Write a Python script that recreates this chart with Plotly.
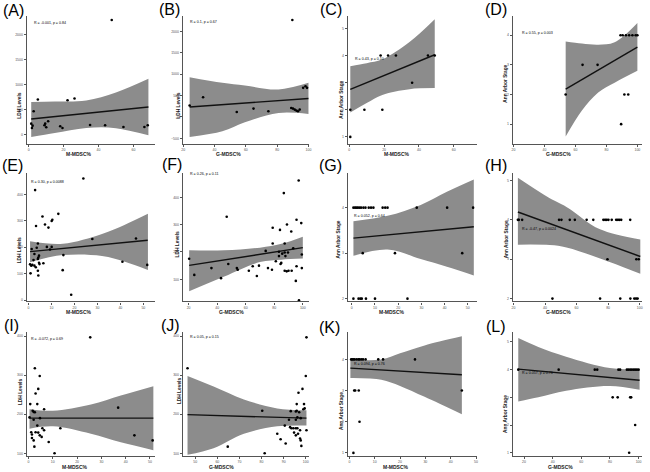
import plotly.graph_objects as go

W, H = 650, 472

# ---------------- data ----------------
a_x = [1.5, 2.3, 2.9, 1.9, 5.3, 9.1, 10.1, 11.2, 9.5, 18.1, 19.4, 22.3, 26.3, 35.2, 43.8, 47.6, 54.3, 66.3, 68.2]
a_y = [220, 180, 467, 133, 700, 187, 147, 267, 220, 167, 133, 687, 720, 193, 187, 2287, 153, 153, 187]
a_fit_x = [1.5, 68.6]
a_fit_y = [313, 553]
a_band_x = [1.5, 15, 33, 50, 68.6]
a_band_up = [653, 660, 680, 840, 1113]
a_band_lo = [-47, 33, 133, 130, -13]

b_x = [24.1, 32.7, 54.2, 64.9, 74.4, 89.7, 89.0, 90.1, 91.2, 92.3, 93.3, 94.4, 96.6, 98.1, 99.1]
b_y = [266, 461, 117, 195, 133, 2266, 211, 195, 172, 148, 133, 172, 680, 719, 680]
b_fit_x = [24.1, 100]
b_fit_y = [234, 430]
b_band_x = [24.1, 45, 59.4, 80.9, 100]
b_band_up = [930, 797, 734, 641, 797]
b_band_lo = [-469, -336, -125, 94, 70]

c_x = [0.6, 0.6, 8.7, 19, 18, 22.3, 26.8, 36.1, 45.2, 49.1]
c_y = [1, 2, 2, 2, 4, 4, 4, 3, 4, 4]
c_fit_x = [0.6, 49.1]
c_fit_y = [2.75, 4.03]
c_band_x = [0.6, 10, 19, 34.6, 49.1]
c_band_up = [3.61, 3.72, 3.86, 4.5, 5.34]
c_band_lo = [1.9, 2.25, 2.55, 2.76, 2.8]

d_x = [53.7, 64.6, 74.3, 89.5, 91.6, 94.1, 89.1, 90.5, 92.6, 94.7, 96.8, 98.9, 100]
d_y = [2, 3, 3, 1, 2, 2, 4, 4, 4, 4, 4, 4, 4]
d_fit_x = [53.7, 100]
d_fit_y = [2.18, 3.6]
d_band_x = [53.7, 64.2, 74.7, 85.3, 100]
d_band_up = [3.79, 3.72, 3.68, 3.76, 4.41]
d_band_lo = [0.58, 1.46, 2.07, 2.4, 2.8]

e_x = [23.9, 2.9, 13, 6.1, 10.4, 10.1, 3.3, 7.2, 8.7, 4.1, 3.6, 8, 10.1, 9.4, 1.4, 2.6, 4.6, 4.3, 4.1,
       2.2, 0.7, 1.2, 1.7, 2.6, 4.6, 4.8, 6.5, 3.2, 4.1, 0.9, 4.3, 15.2, 14.9, 27.8, 40.9, 46.8, 51.7, 18.6]
e_y = [460, 416, 326, 316, 304, 299, 280, 286, 274, 214, 198, 201, 201, 191, 193, 174, 168, 161, 155,
       151, 135, 130, 133, 130, 141, 136, 139, 124, 111, 101, 93, 170, 113, 231, 145, 233, 133, 20]
e_fit_x = [0.7, 51.9]
e_fit_y = [183, 226]
e_band_x = [0.7, 15, 32, 42, 52]
e_band_up = [222, 213, 250, 285, 326]
e_band_lo = [143, 170, 167, 145, 114]

f_x = [97.1, 86.7, 46.7, 78.9, 84, 88.9, 95.6, 98.9, 91.9, 78.9, 87.3, 74, 83.3, 85.6, 87.3, 89.6, 87.8,
       93.3, 99.3, 81.1, 84.4, 87.3, 88.7, 90, 92.2, 84.9, 75.6, 78.4, 95.6, 99.3, 95.1, 97.3, 69.3, 64.9,
       62.2, 67.8, 53.8, 54.4, 47.8, 36, 42.7, 24, 20.4, 83.3]
f_y = [462, 416, 329, 289, 281, 301, 318, 306, 275, 231, 231, 204, 201, 194, 198, 198, 185, 214, 191,
       166, 156, 131, 129, 131, 131, 160, 141, 135, 148, 141, 94, 23, 150, 148, 131, 112, 141, 135, 156,
       141, 104, 116, 175, 185]
f_fit_x = [20.4, 100]
f_fit_y = [151, 216]
f_band_x = [20.4, 45, 70, 85, 100]
f_band_up = [206, 206, 216, 230, 256]
f_band_lo = [56, 110, 163, 172, 176]

g_x = [0.7, 1.4, 2, 2.6, 3.3, 4, 5, 5.9, 7.3, 8.3, 9.3, 13.3, 14.4, 15.4, 28, 41.1, 52.3,
       4.7, 18.6, 47.6,
       0.7, 2.9, 3.7, 4.3, 6.1, 10, 24]
g_y = [4] * 17 + [3] * 3 + [2] * 7
g_fit_x = [0.7, 52.6]
g_fit_y = [3.33, 3.58]
g_band_x = [0.7, 15.4, 29.7, 41, 52.6]
g_band_up = [3.70, 3.82, 4.06, 4.35, 4.62]
g_band_lo = [2.94, 3.08, 2.87, 2.70, 2.51]

h_x = [22.8, 23.4, 25.5, 48.9, 50.4, 55.7, 58.9, 66.4, 70.6, 77, 78.1, 79.1, 80.2, 82.3, 85.1, 86.2,
       87.2, 88.3, 94,
       79.6, 97.9, 99.4,
       44.7, 74.9, 87.7, 94.1, 96.6, 97.7, 98.7]
h_y = [4] * 19 + [3] * 3 + [2] * 7
h_fit_x = [22.8, 100.4]
h_fit_y = [4.2, 3.07]
h_band_x = [22.8, 43, 53.6, 74.9, 100.4]
h_band_up = [5.07, 4.55, 4.33, 3.76, 3.5]
h_band_lo = [3.37, 3.36, 3.3, 3.02, 2.63]

i_x = [25.4, 2.6, 4.6, 4, 2.9, 0.7, 3.6, 1.7, 2.1, 2.6, 6.4, 0.4, 2.1, 4.7, 3.6, 5.7, 2.9, 4, 1.4,
       4.6, 6.4, 5.4, 2.1, 8.3, 2.4, 10.7, 13.1, 36.9, 43.6, 51.1, 1.1, 1.4]
i_y = [397, 318, 298, 265, 253, 226, 226, 209, 206, 205, 213, 192, 186, 190, 171, 164, 154, 153, 148,
       146, 159, 142, 133, 129, 117, 100, 164, 217, 146, 133, 154, 139]
i_fit_x = [0.4, 51.4]
i_fit_y = [190, 190]
i_band_x = [0.4, 10, 25.7, 38, 51.4]
i_band_up = [213, 209, 225, 248, 272]
i_band_lo = [163, 169, 150, 128, 108]

j_x = [100.3, 46.5, 100, 98.5, 96.7, 95.9, 99.2, 99.5, 98.9, 95.9, 93.2, 95.5, 97, 80.3, 92.4, 95.5,
       96.2, 97.7, 90.5, 92.9, 93.5, 94.4, 95.5, 96.2, 97.4, 100.3, 87.1, 94.7, 95.5, 96.5, 97.4, 97.7,
       88.6, 98, 90.9, 64.7, 81.4]
j_y = [397, 318, 298, 265, 255, 226, 226, 215, 213, 209, 208, 207, 205, 209, 186, 186, 192, 190, 171,
       167, 164, 164, 164, 164, 159, 159, 150, 153, 146, 150, 138, 133, 136, 119, 125, 117, 100]
j_fit_x = [46.5, 100.3]
j_fit_y = [199, 190]
j_band_x = [46.5, 58.3, 72, 87.1, 100.3]
j_band_up = [298, 271, 238, 215, 210]
j_band_lo = [96, 113, 150, 169, 171]

k_x = [0.7, 1.1, 1.6, 2.1, 2.9, 3.6, 4, 4.7, 5.4, 6.4, 11.4, 13.3, 25.9,
       1.9, 2.3, 3.7, 44.4,
       4.0,
       1.6]
k_y = [4] * 13 + [3] * 4 + [2] + [1]
k_fit_x = [0.4, 44.4]
k_fit_y = [3.72, 3.51]
k_band_x = [0.4, 12.6, 20, 29.7, 44.4]
k_band_up = [4.0, 4.0, 4.2, 4.45, 4.74]
k_band_lo = [3.4, 3.35, 3.15, 2.8, 2.24]

l_x = [16, 44.2, 69.4, 71.1, 85.9, 87.1, 91.8, 92.9, 94.1, 95.3, 96.5, 97.6, 98.8, 100,
       81.9, 85.4, 94.1, 94.8,
       97.6,
       93.4]
l_y = [4] * 14 + [3] * 4 + [2] + [1]
l_fit_x = [16, 100.7]
l_fit_y = [4.02, 3.62]
l_band_x = [16, 30, 49.4, 80, 100.7]
l_band_up = [5.14, 4.82, 4.47, 4.06, 4.02]
l_band_lo = [2.85, 3.0, 3.24, 3.41, 3.27]

stats = ["R = -0.001, p = 0.84", "R = 0.1, p = 0.67", "R = 0.43, p = 0.10", "R = 0.55, p = 0.003",
         "R = 0.30, p = 0.0088", "R = 0.26, p = 0.11", "R = 0.052, p = 0.64", "R = -0.47, p = 0.0024",
         "R = -0.072, p = 0.69", "R = 0.05, p = 0.15", "R = 0.094, p = 0.76", "R = 0.057, p = 0.76"]
letters = ["(A)", "(B)", "(C)", "(D)", "(E)", "(F)", "(G)", "(H)", "(I)", "(J)", "(K)", "(L)"]
ldh = "LDH Levels"
stage = "Ann Arbor Stage"
mm = "M-MDSC%"
gm = "G-MDSC%"

ldh_ticks_a = [0, 500, 1000, 1500, 2000]
ldh_ticks_b = [-500, 0, 500, 1000, 1500, 2000]
ldh_ticks = [0, 100, 200, 300, 400]
stage_ticks = [1, 2, 3, 4, 5]
m_ticks_a = [0, 20, 40, 60]
m_ticks = [0, 10, 20, 30, 40, 50]
g_ticks = [20, 40, 60, 80, 100]
g_ticks_j = [50, 60, 70, 80, 90, 100]

panels = [
    (a_x, a_y, a_fit_x, a_fit_y, a_band_x, a_band_up, a_band_lo, m_ticks_a, ldh_ticks_a, mm, ldh),
    (b_x, b_y, b_fit_x, b_fit_y, b_band_x, b_band_up, b_band_lo, g_ticks, ldh_ticks_b, gm, ldh),
    (c_x, c_y, c_fit_x, c_fit_y, c_band_x, c_band_up, c_band_lo, m_ticks_a, stage_ticks, mm, stage),
    (d_x, d_y, d_fit_x, d_fit_y, d_band_x, d_band_up, d_band_lo, g_ticks, stage_ticks, gm, stage),
    (e_x, e_y, e_fit_x, e_fit_y, e_band_x, e_band_up, e_band_lo, m_ticks, ldh_ticks, mm, ldh),
    (f_x, f_y, f_fit_x, f_fit_y, f_band_x, f_band_up, f_band_lo, g_ticks, ldh_ticks, gm, ldh),
    (g_x, g_y, g_fit_x, g_fit_y, g_band_x, g_band_up, g_band_lo, m_ticks, stage_ticks, mm, stage),
    (h_x, h_y, h_fit_x, h_fit_y, h_band_x, h_band_up, h_band_lo, g_ticks, stage_ticks, gm, stage),
    (i_x, i_y, i_fit_x, i_fit_y, i_band_x, i_band_up, i_band_lo, m_ticks, ldh_ticks, mm, ldh),
    (j_x, j_y, j_fit_x, j_fit_y, j_band_x, j_band_up, j_band_lo, g_ticks_j, ldh_ticks, gm, ldh),
    (k_x, k_y, k_fit_x, k_fit_y, k_band_x, k_band_up, k_band_lo, m_ticks, stage_ticks, mm, stage),
    (l_x, l_y, l_fit_x, l_fit_y, l_band_x, l_band_up, l_band_lo, g_ticks, stage_ticks, gm, stage),
]

# ---------------- layout geometry (pixels) ----------------
col_px = [(25, 154), (182, 309), (348, 478), (514, 644)]
row_px = [(16, 144), (173, 302), (333, 457)]
x_ranges = [[-1, 72.4], [19.8, 100.4], [-0.8, 73.4], [19.6, 103],
            [-0.7, 55.1], [16, 104.4], [-1.7, 54], [19.6, 101.5],
            [-0.7, 52.1], [44.4, 101.5], [-0.6, 50.4], [12.2, 102.4]]
y_ranges = [[-180, 2367], [-625, 2360], [0.75, 5.46], [0.34, 4.65],
            [-5, 482], [19, 491], [1.94, 4.77], [1.93, 5.2],
            [93, 410], [93, 410], [0.9, 4.87], [0.88, 5.35]]
letter_px = [(12, 11), (169, 10), (331, 10), (497, 10),
             (11, 166), (171, 165), (331, 166), (497, 166),
             (10, 326), (170, 326), (330, 328), (497, 327)]
stat_px = [(30, 23), (187, 22), (353, 59), (521, 33),
           (27, 182), (187, 174), (352, 216), (521, 229),
           (27, 340), (187, 338), (352, 365), (521, 374)]
ytitle_px = [(18, 106), (178, 106), (342, 100), (507, 84),
             (18, 251), (177, 245), (339, 240), (508, 240),
             (18, 393), (178, 392), (341, 412), (506, 415)]
xtitle_px = [(77, 154.5), (228, 154.5), (397, 154.5), (560, 154.5),
             (77, 312.5), (231, 312.5), (392, 312.5), (560, 312.5),
             (73, 467.5), (221, 467.5), (396, 467.5), (562, 467.5)]


def px2paper(px, py):
    return px / W, 1 - py / H


fig = go.Figure()
annotations = []
band_color = "rgb(140,140,140)"

for i, (px_, py_, fx, fy, bx, bu, bl, xt, yt, xtitle, ytitle) in enumerate(panels):
    n = i + 1
    xa = "x" if n == 1 else f"x{n}"
    ya = "y" if n == 1 else f"y{n}"
    r, c = divmod(i, 4)
    # confidence band
    fig.add_trace(go.Scatter(x=bx, y=bu, mode="lines", line=dict(width=0, shape="spline", color=band_color),
                             xaxis=xa, yaxis=ya, showlegend=False, hoverinfo="skip"))
    fig.add_trace(go.Scatter(x=bx, y=bl, mode="lines", line=dict(width=0, shape="spline", color=band_color),
                             fill="tonexty", fillcolor=band_color,
                             xaxis=xa, yaxis=ya, showlegend=False, hoverinfo="skip"))
    # fit line
    fig.add_trace(go.Scatter(x=fx, y=fy, mode="lines", line=dict(width=1.4, color="#111"),
                             xaxis=xa, yaxis=ya, showlegend=False))
    # points
    fig.add_trace(go.Scatter(x=px_, y=py_, mode="markers", marker=dict(size=2.6, color="#000"),
                             xaxis=xa, yaxis=ya, showlegend=False))

    x0, x1 = col_px[c]
    y0, y1 = row_px[r]
    axis_common = dict(showgrid=False, zeroline=False, showline=True, linecolor="#555", linewidth=1.4,
                       ticks="outside", ticklen=2, tickwidth=0.8, tickcolor="#555",
                       tickfont=dict(size=3.5, color="#555", family="Liberation Sans"))
    fig.layout[f"xaxis{'' if n == 1 else n}"] = dict(
        domain=[x0 / W, x1 / W], range=x_ranges[i], anchor=ya, tickvals=xt, **axis_common)
    fig.layout[f"yaxis{'' if n == 1 else n}"] = dict(
        domain=[1 - y1 / H, 1 - y0 / H], range=y_ranges[i], anchor=xa, tickvals=yt, **axis_common)

    lx, ly = px2paper(*letter_px[i])
    annotations.append(dict(x=lx, y=ly, xref="paper", yref="paper", text=letters[i], showarrow=False,
                            font=dict(size=16, color="#000", family="Liberation Sans"),
                            xanchor="center", yanchor="middle", borderpad=0))
    sx, sy = px2paper(*stat_px[i])
    annotations.append(dict(x=sx, y=sy, xref="paper", yref="paper", text=stats[i], showarrow=False,
                            font=dict(size=3.6, color="#000", family="Liberation Sans"),
                            xanchor="left", yanchor="middle"))
    tx, ty = px2paper(*ytitle_px[i])
    annotations.append(dict(x=tx, y=ty, xref="paper", yref="paper", text=f"<b>{ytitle}</b>",
                            showarrow=False, textangle=-90, borderpad=0,
                            font=dict(size=4.8, color="#222", family="Liberation Sans"),
                            xanchor="center", yanchor="middle"))
    qx, qy = px2paper(*xtitle_px[i])
    annotations.append(dict(x=qx, y=qy, xref="paper", yref="paper", text=f"<b>{xtitle}</b>",
                            showarrow=False, borderpad=0,
                            font=dict(size=5, color="#222", family="Liberation Sans"),
                            xanchor="center", yanchor="middle"))

fig.update_layout(width=W, height=H, margin=dict(l=0, r=0, t=0, b=0),
                  paper_bgcolor="white", plot_bgcolor="white", showlegend=False,
                  annotations=annotations)
fig.write_html("out.html", config={"displayModeBar": False},
               post_script="document.body.style.margin='0';document.body.style.padding='0';")
